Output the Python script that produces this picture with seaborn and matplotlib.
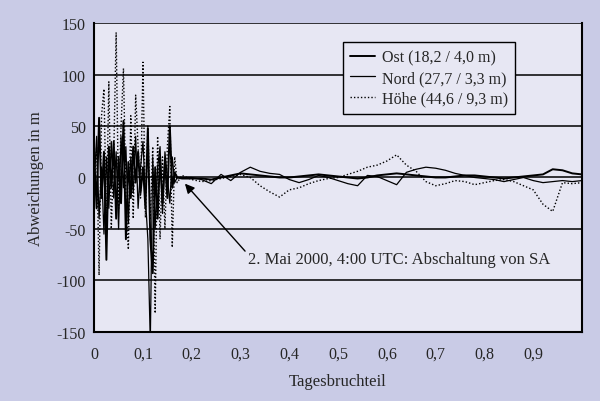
import pandas as pd
import seaborn as sns
import matplotlib.pyplot as plt

# x = fraction of the day
x_noisy = [0.000, 0.005, 0.010, 0.015, 0.020, 0.025, 0.030, 0.035, 0.040, 0.045,
           0.050, 0.055, 0.060, 0.065, 0.070, 0.075, 0.080, 0.085, 0.090, 0.095,
           0.100, 0.105, 0.110, 0.115, 0.120, 0.125, 0.130, 0.135, 0.140, 0.145,
           0.150, 0.155, 0.160, 0.165, 0.170]
x_calm = [0.18, 0.20, 0.22, 0.24, 0.26, 0.28, 0.30, 0.32, 0.34, 0.36,
          0.38, 0.40, 0.42, 0.44, 0.46, 0.48, 0.50, 0.52, 0.54, 0.56,
          0.58, 0.60, 0.62, 0.64, 0.66, 0.68, 0.70, 0.72, 0.74, 0.76,
          0.78, 0.80, 0.82, 0.84, 0.86, 0.88, 0.90, 0.92, 0.94, 0.96,
          0.98, 1.00]

# deviations in m
ost_noisy = [20, -30, 58, -20, 25, -80, 30, -10, 35, -40, 20, -25, 55, -60, 15,
             -20, 30, -5, 25, -15, 10, -30, 48, -60, -93, 10, -40, 20, -25, 15,
             -20, 50, -10, 5, 0]
nord_noisy = [-5, 40, -40, 10, -55, 20, -30, 35, -20, 25, -50, 40, -10, 30, -45,
              20, -15, 40, -30, 10, 35, -20, -60, -160, 20, -50, 10, 30, -35, 25,
              0, -25, 20, -5, 0]
hoehe_noisy = [-10, 30, -95, 60, 86, -40, 93, -50, 20, 141, -30, 50, 106, -20, -70,
               60, -40, 80, 30, -20, 112, -39, 50, -40, 30, -132, 40, -60, 20, -50,
               30, 69, -68, 20, -5]

ost_calm = [-1, -1, -1, -2, 0, 2, 4, 3, 2, 1, 0, 0, 1, 2, 3, 2, 1, 0, -1, 0,
            2, 3, 4, 3, 2, 1, 0, 0, 1, 2, 2, 1, 0, -1, 0, 1, 2, 3, 8, 7, 4, 3]
nord_calm = [0, 0, -2, -6, 3, -3, 5, 10, 6, 4, 3, -2, -5, -2, 2, 0, -3, -6, -8, 2,
             1, -3, -7, 5, 8, 10, 9, 7, 4, 2, 0, -1, -2, -4, -2, 0, -3, -5, -4, -3,
             -4, -3]
hoehe_calm = [2, -2, -4, -3, -1, 1, 3, 0, -8, -14, -19, -12, -10, -6, -3, -1, 0, 3,
              6, 10, 12, 16, 22, 12, 6, -4, -8, -6, -3, -4, -7, -5, -3, -2, -4, -8,
              -12, -26, -33, -5, -6, -5]

labels = ["Ost (18,2 / 4,0 m)", "Nord (27,7 / 3,3 m)", "Höhe (44,6 / 9,3 m)"]

x_all = x_noisy + x_calm
df = pd.DataFrame({
    "Tagesbruchteil": x_all * 3,
    "Abweichung": ost_noisy + ost_calm + nord_noisy + nord_calm + hoehe_noisy + hoehe_calm,
    "Reihe": [labels[0]] * len(x_all) + [labels[1]] * len(x_all) + [labels[2]] * len(x_all),
})

sns.set_style("white")
plt.rcParams["font.family"] = ["Liberation Serif", "DejaVu Serif"]
plt.rcParams["axes.unicode_minus"] = False

fig = plt.figure(figsize=(6, 4.02), dpi=100, facecolor="#c9cbe6")
ax = fig.add_axes([0.157, 0.172, 0.813, 0.768])
ax.set_facecolor("#e7e7f3")

widths = [1.4, 0.9, 1.0]
styles = ["-", "-", (0, (1, 1.5))]
for lab, lw, ls in zip(labels, widths, styles):
    sns.lineplot(data=df[df["Reihe"] == lab], x="Tagesbruchteil", y="Abweichung",
                 color="black", linewidth=lw, linestyle=ls, label=lab, ax=ax)

ax.set_xlim(0, 1.0)
ax.set_ylim(-150, 150)
ax.set_yticks([-150, -100, -50, 0, 50, 100, 150])
ax.set_xticks([0, 0.1, 0.2, 0.3, 0.4, 0.5, 0.6, 0.7, 0.8, 0.9])
ax.set_xticklabels(["0", "0,1", "0,2", "0,3", "0,4", "0,5", "0,6", "0,7", "0,8", "0,9"])
ax.yaxis.grid(True, color="black", linewidth=1.1)
ax.xaxis.grid(False)
ax.tick_params(axis="y", length=4, width=1, color="black", labelsize=11.5, pad=2)
ax.tick_params(axis="x", length=0, labelsize=11.5, pad=10)
for s in ["left", "bottom", "right"]:
    ax.spines[s].set_color("black")
    ax.spines[s].set_linewidth(1.5)
ax.spines["top"].set_visible(False)

ax.set_xlabel("Tagesbruchteil", fontsize=12, labelpad=8)
ax.set_ylabel("Abweichungen in m", fontsize=12, labelpad=9)

ax.annotate("2. Mai 2000, 4:00 UTC: Abschaltung von SA", xy=(0.186, -6),
            xytext=(0.316, -79), fontsize=12, va="center", ha="left",
            arrowprops=dict(arrowstyle="-|>", color="black", lw=1,
                            shrinkA=0, shrinkB=0, mutation_scale=14,
                            relpos=(0, 0.75)))

leg = ax.legend(loc="upper right", bbox_to_anchor=(0.879, 0.965), fontsize=11.5,
                frameon=True, fancybox=False, handlelength=1.6, borderpad=0.45,
                labelspacing=0.3, handletextpad=0.4)
leg.get_frame().set_edgecolor("black")
leg.get_frame().set_facecolor("#e7e7f3")
leg.get_frame().set_alpha(1)
leg.get_frame().set_linewidth(1)

fig.savefig("out.png", dpi=100, facecolor=fig.get_facecolor())
